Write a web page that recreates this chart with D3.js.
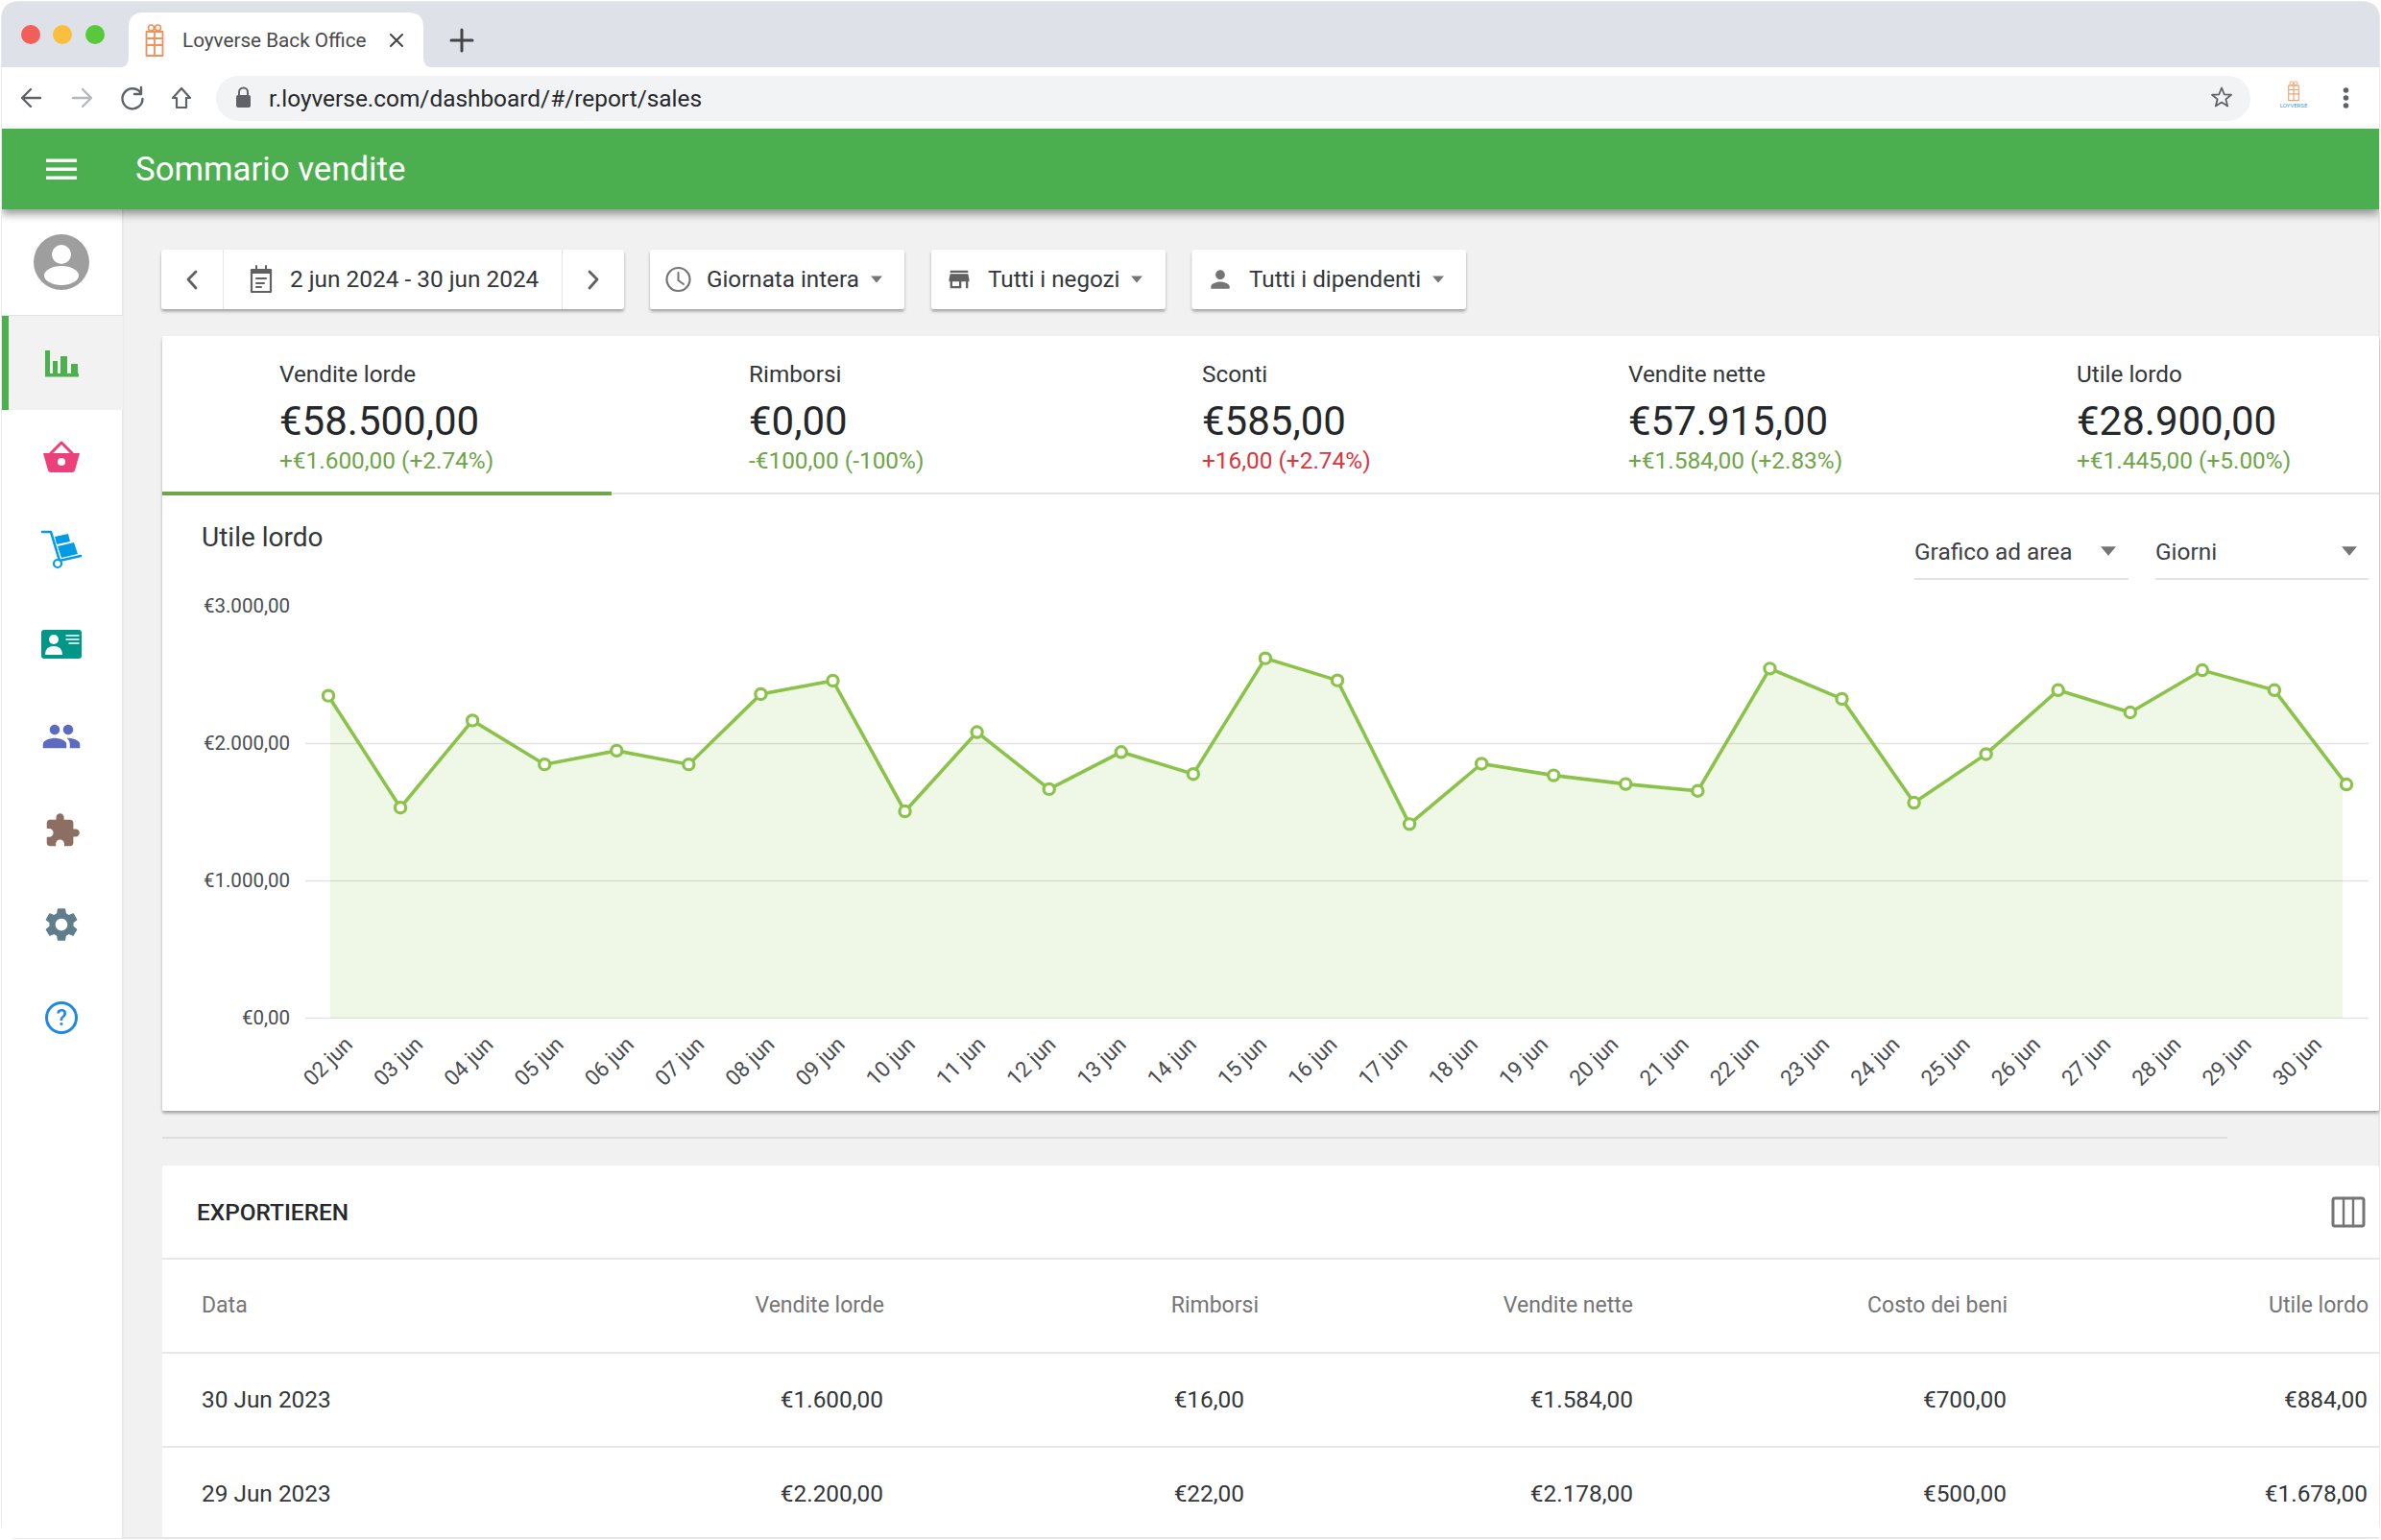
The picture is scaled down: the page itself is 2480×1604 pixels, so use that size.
<!DOCTYPE html>
<html>
<head>
<meta charset="utf-8">
<title>Sommario vendite</title>
<script src="https://cdn.jsdelivr.net/npm/d3@7/dist/d3.min.js"></script>
<style>
  html, body { margin: 0; padding: 0; background: #fff; }
  svg { display: block; font-family: Roboto, sans-serif; }
</style>
</head>
<body>
<div id="canvas"></div>
<script>
// Chart data
const days = ["02 jun", "03 jun", "04 jun", "05 jun", "06 jun", "07 jun", "08 jun", "09 jun", "10 jun",
    "11 jun", "12 jun", "13 jun", "14 jun", "15 jun", "16 jun", "17 jun", "18 jun", "19 jun", "20 jun",
    "21 jun", "22 jun", "23 jun", "24 jun", "25 jun", "26 jun", "27 jun", "28 jun", "29 jun", "30 jun"];
const profit = [2345, 1530, 2165, 1845, 1945, 1845, 2357, 2455, 1503,
    2080, 1665, 1935, 1775, 2618, 2457, 1410, 1850, 1765, 1702,
    1652, 2543, 2322, 1566, 1920, 2386, 2224, 2531, 2386, 1699];
const yTicks = [0, 1000, 2000, 3000];
const yTickLabels = ["€0,00", "€1.000,00", "€2.000,00", "€3.000,00"];

// Summary tabs
const kpiLabels = ["Vendite lorde", "Rimborsi", "Sconti", "Vendite nette", "Utile lordo"];
const kpiValues = ["€58.500,00", "€0,00", "€585,00", "€57.915,00", "€28.900,00"];
const kpiDeltas = ["+€1.600,00 (+2.74%)", "-€100,00 (-100%)", "+16,00 (+2.74%)", "+€1.584,00 (+2.83%)", "+€1.445,00 (+5.00%)"];
const kpiBad = [false, false, true, false, false];
const kpiX = [291, 780, 1252, 1696, 2163];

// Table
const tableHeader = ["Data", "Vendite lorde", "Rimborsi", "Vendite nette", "Costo dei beni", "Utile lordo"];
const tableRows = [
    ["30 Jun 2023", "€1.600,00", "€16,00", "€1.584,00", "€700,00", "€884,00"],
    ["29 Jun 2023", "€2.200,00", "€22,00", "€2.178,00", "€500,00", "€1.678,00"]
];
const headerRight = [0, 921, 1311, 1701, 2091, 2467];
const cellRight = [0, 920, 1296, 1701, 2090, 2466];

const ICONS = {
    person: "M12 12c2.21 0 4-1.79 4-4s-1.79-4-4-4-4 1.79-4 4 1.79 4 4 4zm0 2c-2.67 0-8 1.34-8 4v2h16v-2c0-2.66-5.33-4-8-4z",
    group: "M16 11c1.66 0 2.99-1.34 2.99-3S17.66 5 16 5c-1.66 0-3 1.34-3 3s1.34 3 3 3zm-8 0c1.66 0 2.99-1.34 2.99-3S9.66 5 8 5C6.34 5 5 6.34 5 8s1.34 3 3 3zm0 2c-2.33 0-7 1.17-7 3.5V19h14v-2.5c0-2.33-4.67-3.5-7-3.5zm8 0c-.29 0-.62.02-.97.05 1.16.84 1.97 1.97 1.97 3.45V19h6v-2.5c0-2.33-4.67-3.5-7-3.5z",
    puzzle: "M20.5 11H19V7c0-1.1-.9-2-2-2h-4V3.5C13 2.12 11.88 1 10.5 1S8 2.12 8 3.5V5H4c-1.1 0-1.99.9-1.99 2v3.8H3.5c1.49 0 2.7 1.21 2.7 2.7s-1.21 2.7-2.7 2.7H2V20c0 1.1.9 2 2 2h3.8v-1.5c0-1.49 1.21-2.7 2.7-2.7 1.49 0 2.7 1.21 2.7 2.7V22H17c1.1 0 2-.9 2-2v-4h1.5c1.38 0 2.5-1.12 2.5-2.5S21.88 11 20.5 11z",
    gear: "M19.14 12.94c.04-.3.06-.61.06-.94 0-.32-.02-.64-.07-.94l2.03-1.58c.18-.14.23-.41.12-.61l-1.92-3.32c-.12-.22-.37-.29-.59-.22l-2.39.96c-.5-.38-1.03-.7-1.62-.94l-.36-2.54c-.04-.24-.24-.41-.48-.41h-3.84c-.24 0-.43.17-.47.41l-.36 2.54c-.59.24-1.13.57-1.62.94l-2.39-.96c-.22-.08-.47 0-.59.22L2.74 8.87c-.12.21-.08.47.12.61l2.03 1.58c-.05.3-.09.63-.09.94s.02.64.07.94l-2.03 1.58c-.18.14-.23.41-.12.61l1.92 3.32c.12.22.37.29.59.22l2.39-.96c.5.38 1.03.7 1.62.94l.36 2.54c.05.24.24.41.48.41h3.84c.24 0 .44-.17.47-.41l.36-2.54c.59-.24 1.13-.56 1.62-.94l2.39.96c.22.08.47 0 .59-.22l1.92-3.32c.12-.22.07-.47-.12-.61l-2.01-1.58zM12 15.6c-1.98 0-3.6-1.62-3.6-3.6s1.62-3.6 3.6-3.6 3.6 1.62 3.6 3.6-1.62 3.6-3.6 3.6z",
    store: "M20 4H4v2h16V4zm1 10v-2l-1-5H4l-1 5v2h1v6h10v-6h4v6h2v-6h1zm-9 4H6v-4h6v4z"
};

const svg = d3.select("#canvas").append("svg").attr("width", 2480).attr("height", 1604);
const defs = svg.append("defs");

// soft shadow used on the cards and buttons
const shadow = defs.append("filter").attr("id", "shadow")
    .attr("x", "-5%").attr("y", "-10%").attr("width", "110%").attr("height", "125%");
shadow.append("feDropShadow").attr("dx", 0).attr("dy", 2.5).attr("stdDeviation", 1.8)
    .attr("flood-color", "#000").attr("flood-opacity", 0.32);
const barShadow = defs.append("filter").attr("id", "barShadow")
    .attr("x", "0").attr("y", "-20%").attr("width", "100%").attr("height", "160%");
barShadow.append("feDropShadow").attr("dx", 0).attr("dy", 5).attr("stdDeviation", 5)
    .attr("flood-color", "#000").attr("flood-opacity", 0.4);

function rect(parent, x, y, w, h, fill, r) {
    return parent.append("rect").attr("x", x).attr("y", y).attr("width", w).attr("height", h)
        .attr("fill", fill).attr("rx", r || 0);
}

function label(parent, x, y, str, size, color, anchor, weight) {
    return parent.append("text").attr("x", x).attr("y", y).attr("dy", "0.33em")
        .attr("font-size", size).attr("fill", color)
        .attr("text-anchor", anchor || "start").attr("font-weight", weight || 400).text(str);
}

function icon(parent, name, cx, cy, size, color) {
    const s = size / 24;
    parent.append("path").attr("d", ICONS[name]).attr("fill", color)
        .attr("transform", `translate(${cx - size / 2},${cy - size / 2}) scale(${s})`);
}

function stroked(parent, d, color, width) {
    return parent.append("path").attr("d", d).attr("fill", "none").attr("stroke", color)
        .attr("stroke-width", width).attr("stroke-linecap", "round").attr("stroke-linejoin", "round");
}

function giftIcon(parent, cx, cy, color) {
    const g = parent.append("g").attr("transform", `translate(${cx},${cy})`);
    stroked(g, "M-8.5,-9H8.5V-2H-8.5ZM-8.5,-2V16H8.5V-2M-8.5,5H8.5M0,-9V16", color, 1.8).attr("transform", "translate(0,-2)");
    g.append("circle").attr("cx", -3.5).attr("cy", -15).attr("r", 3).attr("fill", "none").attr("stroke", color).attr("stroke-width", 1.6);
    g.append("circle").attr("cx", 3.5).attr("cy", -15).attr("r", 3).attr("fill", "none").attr("stroke", color).attr("stroke-width", 1.6);
    return g;
}

function drawBrowser() {
    const g = svg.append("g");
    // window frame
    g.append("path").attr("d", "M2,20Q2,2 20,2H2460Q2478,2 2478,20V1586Q2478,1602 2462,1602H18Q2,1602 2,1586Z")
        .attr("fill", "#f1f1f1").attr("stroke", "#e3e3e3").attr("stroke-width", 1.5);
    g.append("path").attr("d", "M2,70V20Q2,2 20,2H2460Q2478,2 2478,20V70Z").attr("fill", "#dee1e7");
    rect(g, 2, 70, 2476, 64, "#fff");

    const lights = [[32, "#f25f58"], [65, "#fbbe3f"], [99, "#58c93a"]];
    lights.forEach(d => g.append("circle").attr("cx", d[0]).attr("cy", 36).attr("r", 10).attr("fill", d[1]));

    // active tab
    g.append("path").attr("d", "M126,70Q134,70 134,58V28Q134,13 150,13H425Q441,13 441,28V58Q441,70 449,70Z").attr("fill", "#fff");
    giftIcon(g, 161, 44, "#f0905a");
    label(g, 190, 42, "Loyverse Back Office", 20.7, "#4a4a4a");
    stroked(g, "M407,36L419,48M419,36L407,48", "#444", 2);
    stroked(g, "M481,31V53M470,42H492", "#444", 3);

    // nav buttons
    stroked(g, "M42,102H24M32,93L23,102L32,111", "#5f6368", 2.4);
    stroked(g, "M76,102H94M86,93L95,102L86,111", "#b5b8bc", 2.4);
    stroked(g, "M146,96A10.5,10.5 0 1 0 148.5,103M147,91V98H140", "#5f6368", 2.4);
    stroked(g, "M189,92L180,102H184V112H194V102H198Z", "#5f6368", 2.2);

    // address bar
    rect(g, 225, 79, 2119, 47, "#f1f3f4", 23.5);
    rect(g, 246, 99, 15, 13, "#5f6368", 2);
    stroked(g, "M249,99V96A4.5,4.5 0 0 1 258,96V99", "#5f6368", 2);
    label(g, 280, 103, "r.loyverse.com/dashboard/#/report/sales", 24.4, "#26282b");
    stroked(g, d3.lineRadial().curve(d3.curveLinearClosed)
        .angle((d, i) => i * Math.PI / 5).radius((d, i) => i % 2 ? 4.6 : 10.5)(d3.range(10)), "#5f6368", 1.8)
        .attr("transform", "translate(2314,102)");
    giftIcon(g, 2389, 97, "#f0a070").attr("transform", "translate(2389,96) scale(0.62)");
    label(g, 2389, 110, "LOYVERSE", 6, "#3a9bd5", "middle");
    [94, 102, 110].forEach(y => g.append("circle").attr("cx", 2443.5).attr("cy", y).attr("r", 2.8).attr("fill", "#5f6368"));
}

function drawAppBar() {
    // sidebar sits under the green bar so its shadow falls on it
    const side = svg.append("g");
    rect(side, 2, 218, 126, 1384, "#fff");
    rect(side, 127, 218, 1.5, 1384, "#e4e4e4");
    rect(side, 2, 328, 126, 1, "#e2e2e2");
    rect(side, 2, 329, 126, 98, "#f2f2f2");
    rect(side, 2, 329, 7, 98, "#4caf50");

    side.append("circle").attr("cx", 64).attr("cy", 273).attr("r", 29).attr("fill", "#9e9e9e");
    side.append("circle").attr("cx", 64).attr("cy", 265).attr("r", 10).attr("fill", "#fff");
    side.append("ellipse").attr("cx", 64).attr("cy", 287).attr("rx", 18).attr("ry", 10).attr("fill", "#fff");

    // chart icon
    const c = side.append("g").attr("transform", "translate(64,380)").attr("fill", "#4caf50");
    rect(c, -17, -15, 5, 27, "#4caf50");
    rect(c, -17, 9, 35, 3.5, "#4caf50");
    rect(c, -9, -4, 5, 14, "#4caf50");
    rect(c, -1, -9, 7, 19, "#4caf50");
    rect(c, 10, -1, 7, 11, "#4caf50");

    // basket
    const b = side.append("g").attr("transform", "translate(64,478)");
    b.append("path").attr("d", "M-19,-6H19L14,12Q13,14 11,14H-11Q-13,14 -14,12Z").attr("fill", "#ec407a");
    stroked(b, "M-11,-6L0,-17L11,-6", "#ec407a", 3);
    b.append("circle").attr("cy", 3).attr("r", 4).attr("fill", "#fff");

    // hand truck
    const t = side.append("g").attr("transform", "translate(64,573)");
    stroked(t, "M-20,-19H-11L-2,11L20,6", "#039be5", 2.6);
    t.append("circle").attr("cx", -4).attr("cy", 14).attr("r", 4).attr("fill", "#fff").attr("stroke", "#039be5").attr("stroke-width", 2.2);
    t.append("path").attr("d", "M-7,-14L7,-17L9,-9L-5,-6Z").attr("fill", "#039be5");
    t.append("path").attr("d", "M-4,-4L13,-8L17,4L0,8Z").attr("fill", "#039be5");

    // id card
    const id = side.append("g").attr("transform", "translate(64,671)");
    rect(id, -21, -15, 42, 30, "#009688", 3);
    id.append("circle").attr("cx", -8).attr("cy", -5).attr("r", 5).attr("fill", "#fff");
    id.append("path").attr("d", "M-17,11Q-17,2 -8,2Q1,2 1,11Z").attr("fill", "#fff");
    stroked(id, "M5,-9H18M5,-5H18M8,-1H18", "#fff", 1.5);

    icon(side, "group", 64, 767, 42, "#5c6bc0");
    icon(side, "puzzle", 65, 865, 39, "#8d6e63");
    icon(side, "gear", 64, 963, 42, "#607d8b");

    side.append("circle").attr("cx", 64).attr("cy", 1060).attr("r", 15.5).attr("fill", "none")
        .attr("stroke", "#1e88e5").attr("stroke-width", 3);
    label(side, 64, 1060, "?", 23, "#1e88e5", "middle", 500);

    const g = svg.append("g");
    rect(g, 2, 134, 2476, 84, "#4caf50").attr("filter", "url(#barShadow)");
    [167, 176, 185].forEach(y => rect(g, 48, y - 1.5, 32, 3.4, "#fff"));
    label(g, 141, 176.5, "Sommario vendite", 34.8, "#fff");
}

function caret(parent, x, y, w, color) {
    parent.append("path").attr("d", `M${x - w},${y - w * 0.6}H${x + w}L${x},${y + w * 0.6}Z`).attr("fill", color);
}

function drawFilters() {
    const g = svg.append("g");
    const text = "#33373a";
    const boxes = [[168, 482], [677, 265], [970, 244], [1241.5, 285.5]];
    boxes.forEach(b => rect(g, b[0], 260, b[1], 62, "#fff", 3).attr("filter", "url(#shadow)"));

    rect(g, 232, 260, 1, 62, "#e4e4e4");
    rect(g, 585, 260, 1, 62, "#e4e4e4");
    stroked(g, "M204,283L196,291L204,300", "#616161", 2.8);
    stroked(g, "M614,283L622,291L614,300", "#616161", 2.8);

    // calendar
    const cal = g.append("g").attr("transform", "translate(272,291)");
    stroked(cal, "M-10,-10H10V13H-10Z", "#616161", 2.2);
    rect(cal, -10, -11, 20, 5, "#616161");
    stroked(cal, "M-5,-14V-10M5,-14V-10M-5,-1H5M-5,4H3M-5,8H0", "#616161", 2);
    label(g, 302, 291, "2 jun 2024 - 30 jun 2024", 24.4, text);

    // clock
    g.append("circle").attr("cx", 706.5).attr("cy", 291).attr("r", 12).attr("fill", "none").attr("stroke", "#757575").attr("stroke-width", 2.2);
    stroked(g, "M706.5,284V292L712,296", "#757575", 2);
    label(g, 736, 291, "Giornata intera", 24.2, text);
    caret(g, 913, 291, 6, "#757575");

    icon(g, "store", 999, 291, 28, "#616161");
    label(g, 1029, 291, "Tutti i negozi", 24.2, text);
    caret(g, 1184, 291, 6, "#757575");

    icon(g, "person", 1271, 291, 29, "#757575");
    label(g, 1301, 291, "Tutti i dipendenti", 24.2, text);
    caret(g, 1498, 291, 6, "#757575");
}

function drawCards() {
    const g = svg.append("g");
    rect(g, 169, 350, 2309, 807, "#fff", 2).attr("filter", "url(#shadow)");

    // separator and table card
    rect(g, 169, 1184, 2151, 2, "#dedede");
    rect(g, 169, 1214, 2309, 388, "#fff", 2);
    rect(g, 169, 1601, 2309, 1.5, "#e3e3e3");

    // summary tabs
    rect(g, 169, 513, 2309, 2, "#e4e4e4");
    rect(g, 169, 512, 468, 4, "#6ea548");
    kpiLabels.forEach((d, i) => {
        label(g, kpiX[i], 389.5, d, 24.3, "#33373a");
        label(g, kpiX[i], 439, kpiValues[i], 42, "#25282a");
        label(g, kpiX[i], 479.5, kpiDeltas[i], 24.4, kpiBad[i] ? "#d9363e" : "#6ea548");
    });

    label(g, 210, 560, "Utile lordo", 28, "#33373a");

    // view selectors
    label(g, 1994, 575, "Grafico ad area", 24.4, "#3d4144");
    caret(g, 2196, 574, 8, "#757575");
    rect(g, 1994, 602, 223, 2, "#e2e2e2");
    label(g, 2245, 575, "Giorni", 24.4, "#3d4144");
    caret(g, 2447, 574, 8, "#757575");
    rect(g, 2245, 602, 222, 2, "#e2e2e2");
}

function drawChart() {
    const x = d3.scalePoint().domain(days).range([342, 2444]);
    // the date labels run on a slightly tighter spacing than the points
    const xLabels = d3.scalePoint().domain(days).range([344, 2395]);
    const y = d3.scaleLinear().domain([0, 3000]).range([1060, 631]);
    const points = days.map((d, i) => ({day: d, value: profit[i]}));

    // the fill stops a little short of the first and last point
    const clipLeft = x(days[0]) + 2;
    const clipRight = x(days[days.length - 1]) - 4;
    defs.append("clipPath").attr("id", "areaClip").append("rect")
        .attr("x", clipLeft).attr("y", y(3000)).attr("width", clipRight - clipLeft).attr("height", y(0) - y(3000));

    svg.append("path").datum(points)
        .attr("clip-path", "url(#areaClip)")
        .attr("fill", "#eff7e6")
        .attr("d", d3.area().x(d => x(d.day)).y0(y(0)).y1(d => y(d.value)));

    // left axis, gridlines come from its ticks
    const yAxis = svg.append("g").attr("transform", "translate(318,0)")
        .call(d3.axisLeft(y).tickValues(yTicks)
            .tickFormat((d, i) => yTickLabels[i])
            .tickSize(-(2467 - 318)).tickPadding(16));
    yAxis.select(".domain").remove();
    yAxis.selectAll(".tick line")
        .attr("stroke", "#000").attr("stroke-opacity", d => d === 3000 ? 0 : 0.11).attr("stroke-width", 1.6);
    yAxis.selectAll(".tick text")
        .attr("font-family", "Roboto, sans-serif").attr("font-size", 20.5).attr("fill", "#4a4d50");

    const xAxis = svg.append("g").attr("transform", `translate(0,${y(0)})`)
        .call(d3.axisBottom(xLabels).tickSize(0));
    xAxis.select(".domain").remove();
    xAxis.selectAll(".tick text")
        .attr("font-family", "Roboto, sans-serif").attr("font-size", 22.5).attr("fill", "#4a4d50")
        .attr("text-anchor", "end").attr("dx", 0).attr("dy", 0)
        .attr("transform", "translate(22,27) rotate(-45)");

    svg.append("path").datum(points)
        .attr("fill", "none").attr("stroke", "#8bc34a").attr("stroke-width", 3.6)
        .attr("d", d3.line().x(d => x(d.day)).y(d => y(d.value)));

    svg.selectAll("circle.pt").data(points).enter().append("circle")
        .attr("class", "pt")
        .attr("cx", d => x(d.day)).attr("cy", d => y(d.value)).attr("r", 5.6)
        .attr("fill", "#fff").attr("stroke", "#8bc34a").attr("stroke-width", 3.2);
}

function drawTable() {
    const g = svg.append("g");
    label(g, 205, 1263, "EXPORTIEREN", 24.4, "#26282b", "start", 500);

    // columns toggle
    const ic = g.append("g");
    ic.append("rect").attr("x", 2430).attr("y", 1248).attr("width", 32).attr("height", 29).attr("rx", 2)
        .attr("fill", "none").attr("stroke", "#757575").attr("stroke-width", 3);
    stroked(ic, "M2441,1248V1277M2451,1248V1277", "#757575", 2.4);

    [1310, 1408, 1506].forEach(y => rect(g, 169, y, 2309, 2, "#e8e8e8"));

    tableHeader.forEach((d, i) => {
        if (i === 0) label(g, 210, 1359.5, d, 23, "#757575");
        else label(g, headerRight[i], 1359.5, d, 23, "#757575", "end");
    });
    const rowY = [1458, 1556];
    tableRows.forEach((row, r) => {
        row.forEach((d, i) => {
            if (i === 0) label(g, 210, rowY[r], d, 24.4, "#33373a");
            else label(g, cellRight[i], rowY[r], d, 24.4, "#33373a", "end");
        });
    });
}

drawBrowser();
drawCards();
drawAppBar();
drawFilters();
drawChart();
drawTable();
</script>
</body>
</html>
